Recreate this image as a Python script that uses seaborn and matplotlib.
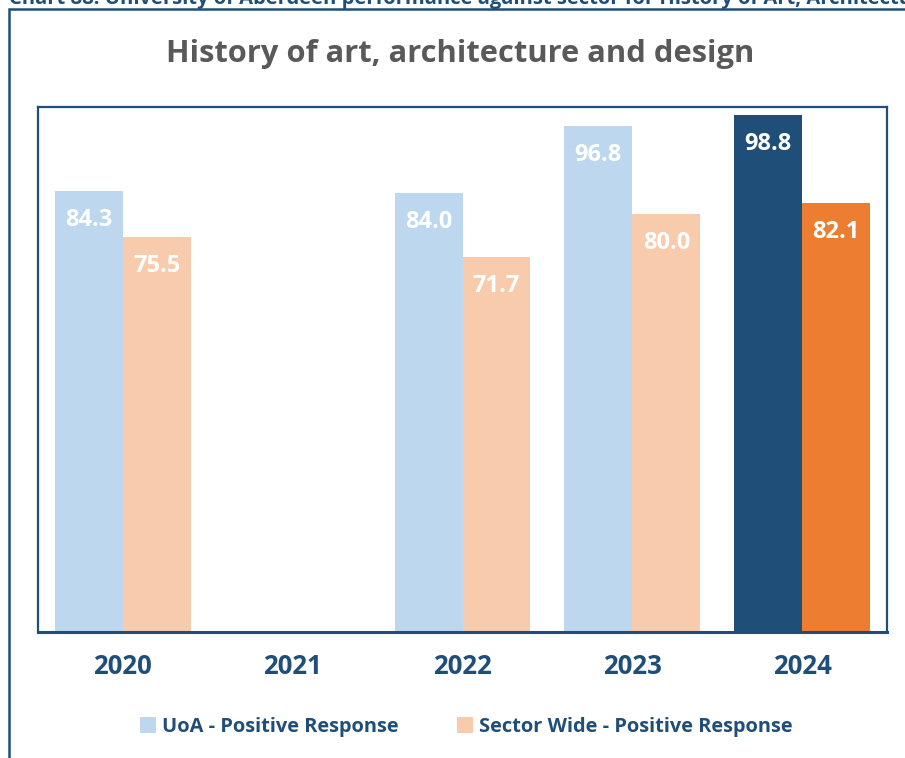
import numpy as np
import pandas as pd
import matplotlib
matplotlib.use("Agg")
import matplotlib.pyplot as plt
from matplotlib.patches import Patch, Rectangle
import seaborn as sns

# Survey results per year (2021 had no data)
years = ["2020", "2021", "2022", "2023", "2024"]
uoa_positive = [84.3, np.nan, 84.0, 96.8, 98.8]
sector_positive = [75.5, np.nan, 71.7, 80.0, 82.1]
series_names = ["UoA - Positive Response", "Sector Wide - Positive Response"]
title_text = "History of art, architecture and design"
caption_text = ("Chart 88: University of Aberdeen performance against sector "
                "for History of Art, Architecture and Design")

NAVY = "#1F4E79"
LIGHT = {"UoA - Positive Response": "#BDD7EE",
         "Sector Wide - Positive Response": "#F8CBAD"}
DARK = {"UoA - Positive Response": "#1F4E79",
        "Sector Wide - Positive Response": "#ED7D31"}

sns.set_theme(style="white")
plt.rcParams["font.family"] = ["Open Sans", "DejaVu Sans"]

df = pd.DataFrame({
    "Year": years * 2,
    "Series": [series_names[0]] * len(years) + [series_names[1]] * len(years),
    "Value": uoa_positive + sector_positive,
})

fig = plt.figure(figsize=(9.05, 7.58), dpi=100)
ax = fig.add_axes([38 / 905, 1 - 632 / 758, (887 - 38) / 905, (632 - 107) / 758])

sns.barplot(data=df, x="Year", y="Value", hue="Series", order=years,
            hue_order=series_names, palette=LIGHT, width=0.8,
            saturation=1, errorbar=None, legend=False, ax=ax)

# latest year drawn in strong colours, values written inside bar tops
for container, name in zip(ax.containers, series_names):
    vals = df[df["Series"] == name].set_index("Year")["Value"]
    for bar in container:
        idx = int(round(bar.get_x() + bar.get_width() / 2))
        v = vals[years[idx]]
        if np.isnan(v):
            continue
        if years[idx] == "2024":
            bar.set_facecolor(DARK[name])
        bar.set_edgecolor("none")
        ax.annotate(f"{v:.1f}", (bar.get_x() + bar.get_width() / 2, v),
                    xytext=(0, -29), textcoords="offset pixels",
                    ha="center", va="center", color="white",
                    fontsize=17, fontweight="bold")

ax.set_ylim(0, 100.4)
ax.set_xlim(-0.5, 4.5)
ax.set_yticks([])
ax.set_xlabel("")
ax.set_ylabel("")
ax.tick_params(axis="x", length=0, pad=15, labelsize=18.5, labelcolor=NAVY)
for lbl in ax.get_xticklabels():
    lbl.set_fontweight("bold")
for side, sp in ax.spines.items():
    sp.set_visible(True)
    sp.set_color(NAVY)
    sp.set_linewidth(2.2 if side == "bottom" else 1.6)

fig.text(460 / 905, 1 - 54 / 758, title_text, ha="center", va="center",
         fontsize=22.2, fontweight="bold", color="#595959")

# chart caption sitting above the framed chart, running past the page edge
fig.text(9 / 905, 1 - 4 / 758, caption_text, ha="left", va="baseline",
         fontsize=14.5, fontweight="bold", color=NAVY)

fig.patches.append(Rectangle((8.5 / 905, -0.1), 1.2, 1.1 - 9 / 758,
                             transform=fig.transFigure, fill=False,
                             edgecolor=NAVY, linewidth=1.8))

handles = [Patch(facecolor=LIGHT[n], edgecolor="none", label=n) for n in series_names]
leg = fig.legend(handles=handles, loc="center", bbox_to_anchor=(466 / 905, 1 - 727 / 758),
                 ncol=2, frameon=False, handlelength=0.8, handleheight=0.8,
                 handletextpad=0.3, columnspacing=2.9, fontsize=14.4)
for t in leg.get_texts():
    t.set_color(NAVY)
    t.set_fontweight("bold")

fig.savefig("out.png", dpi=100)
